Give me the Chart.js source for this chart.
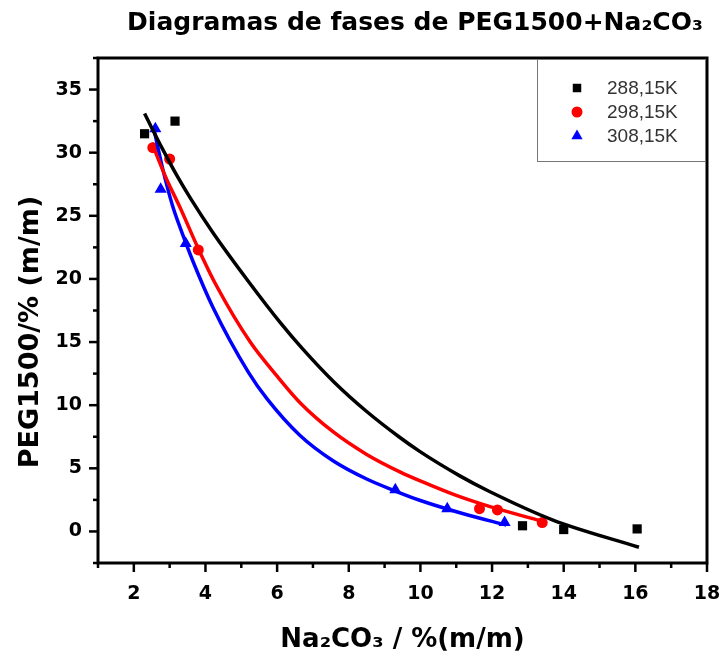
<!DOCTYPE html>
<html lang="pt">
<head>
  <meta charset="UTF-8">
  <title>Diagramas de fases de PEG1500+Na2CO3</title>
  <script src="https://cdn.jsdelivr.net/npm/chart.js"></script>
  <style>
    html, body { margin: 0; padding: 0; background: #fff; }
  </style>
</head>
<body>
  <canvas id="chart" width="720" height="662"></canvas>

  <script>
    // temperatures (legend labels)
    var seriesLabels = ['288,15K', '298,15K', '308,15K'];

    // experimental points
    var pts288X = [2.3, 3.15, 12.85, 14.0, 16.05];
    var pts288Y = [31.5, 32.5, 0.45, 0.15, 0.2];
    var pts298X = [2.53, 3.0, 3.8, 11.65, 12.15, 13.4];
    var pts298Y = [30.4, 29.5, 22.3, 1.8, 1.7, 0.7];
    var pts308X = [2.6, 2.75, 3.45, 9.3, 10.75, 12.35];
    var pts308Y = [31.9, 27.1, 22.8, 3.3, 1.8, 0.7];

    // fitted curves
    var fit288X = [2.3, 2.8, 3.2, 3.6, 4.2, 5.2, 6.1, 6.7, 7.6, 8.5, 9.4, 10.0, 11.1, 11.9, 13.7, 16.1];
    var fit288Y = [33.1, 30.3, 28.2, 26.3, 23.7, 19.8, 16.5, 14.5, 11.8, 9.5, 7.5, 6.3, 4.4, 3.2, 0.9, -1.25];
    var fit298X = [2.5, 2.9, 3.3, 3.8, 4.3, 5.25, 6.0, 6.64, 7.56, 8.5, 9.44, 10.08, 11.0, 11.9, 13.4];
    var fit298Y = [30.8, 28.0, 25.6, 22.4, 19.5, 15.0, 12.3, 10.2, 7.9, 6.1, 4.7, 3.9, 2.85, 2.0, 0.8];
    var fit308X = [2.55, 2.8, 3.07, 3.3, 3.65, 4.2, 5.2, 5.72, 6.64, 7.56, 8.5, 9.3, 10.0, 11.2, 12.4];
    var fit308Y = [32.0, 28.8, 25.9, 24.0, 21.4, 17.8, 12.6, 10.5, 7.6, 5.6, 4.15, 3.2, 2.45, 1.4, 0.5];

    // axis ticks
    var xMajor = [2, 4, 6, 8, 10, 12, 14, 16, 18];
    var xMinor = [1, 3, 5, 7, 9, 11, 13, 15, 17];
    var yMajor = [0, 5, 10, 15, 20, 25, 30, 35];
    var yMinor = [-2.5, 2.5, 7.5, 12.5, 17.5, 22.5, 27.5, 32.5, 37.5];

    var colors = ['#000000', '#ff0000', '#0000ff'];
    var styles = ['rect', 'circle', 'triangle'];
    var radii = [6.5, 5.5, 7];

    function toPoints(xs, ys) {
      return xs.map(function(x, i) { return { x: x, y: ys[i] }; });
    }

    var fits = [[fit288X, fit288Y], [fit298X, fit298Y], [fit308X, fit308Y]];
    var pts = [[pts288X, pts288Y], [pts298X, pts298Y], [pts308X, pts308Y]];

    var datasets = [];
    fits.forEach(function(f, i) {
      datasets.push({
        label: seriesLabels[i] + ' fit',
        data: toPoints(f[0], f[1]),
        showLine: true,
        borderColor: colors[i],
        borderWidth: 3.5,
        pointRadius: 0,
        cubicInterpolationMode: 'monotone',
        order: 1
      });
    });
    pts.forEach(function(p, i) {
      datasets.push({
        label: seriesLabels[i],
        data: toPoints(p[0], p[1]),
        showLine: false,
        pointStyle: styles[i],
        pointRadius: radii[i],
        backgroundColor: colors[i],
        borderColor: colors[i],
        borderWidth: 0,
        order: 2
      });
    });

    // frame, minor/major ticks, titles and legend box
    var extras = {
      id: 'extras',
      afterDatasetsDraw: function(chart) {
        var ctx = chart.ctx, a = chart.chartArea;
        var sx = chart.scales.x, sy = chart.scales.y;
        ctx.save();
        ctx.strokeStyle = '#000';
        ctx.lineWidth = 2.5;
        xMajor.forEach(function(v) {
          var px = sx.getPixelForValue(v);
          ctx.beginPath(); ctx.moveTo(px, a.bottom); ctx.lineTo(px, a.bottom + 9); ctx.stroke();
        });
        xMinor.forEach(function(v) {
          var px = sx.getPixelForValue(v);
          ctx.beginPath(); ctx.moveTo(px, a.bottom); ctx.lineTo(px, a.bottom + 5); ctx.stroke();
        });
        yMajor.forEach(function(v) {
          var py = sy.getPixelForValue(v);
          ctx.beginPath(); ctx.moveTo(a.left, py); ctx.lineTo(a.left - 9, py); ctx.stroke();
        });
        yMinor.forEach(function(v) {
          var py = sy.getPixelForValue(v);
          ctx.beginPath(); ctx.moveTo(a.left, py); ctx.lineTo(a.left - 5, py); ctx.stroke();
        });
        ctx.lineWidth = 3;
        ctx.strokeRect(a.left, a.top, a.right - a.left, a.bottom - a.top);

        // chart title and axis titles
        ctx.fillStyle = '#000';
        ctx.textAlign = 'center';
        ctx.textBaseline = 'middle';
        ctx.font = 'bold 25px "DejaVu Sans"';
        ctx.fillText('Diagramas de fases de PEG1500+Na\u2082CO\u2083', 415, 23);
        ctx.font = 'bold 26px "DejaVu Sans"';
        ctx.fillText('Na\u2082CO\u2083 / %(m/m)', (a.left + a.right) / 2, 640);
        ctx.save();
        ctx.translate(31, 332);
        ctx.rotate(-Math.PI / 2);
        ctx.font = 'bold 27px "DejaVu Sans"';
        ctx.fillText('PEG1500/% (m/m)', 0, 0);
        ctx.restore();

        // legend
        var lw = 170, lh = 104;
        var lx = a.right - lw, ly = a.top;
        ctx.lineWidth = 1;
        ctx.strokeStyle = '#777';
        ctx.fillStyle = '#fff';
        ctx.fillRect(lx, ly + 1.5, lw - 1.5, lh - 1.5);
        ctx.strokeRect(lx + 0.5, ly + 1.5, lw - 2, lh - 2);
        ctx.font = '19px "Liberation Sans"';
        ctx.textAlign = 'left';
        seriesLabels.forEach(function(lab, i) {
          var cy = ly + 30 + i * 24;
          ctx.fillStyle = colors[i];
          ctx.strokeStyle = colors[i];
          Chart.helpers.drawPoint(ctx, { pointStyle: styles[i], radius: [6, 5.5, 6.5][i], rotation: 0, borderWidth: 0 }, lx + 40, cy);
          ctx.fillStyle = '#333';
          ctx.fillText(lab, lx + 70, cy + 1);
        });
        ctx.restore();
      }
    };

    var tickFont = { family: 'DejaVu Sans', size: 19, weight: 'bold' };

    new Chart(document.getElementById('chart'), {
      type: 'scatter',
      data: { datasets: datasets },
      options: {
        responsive: false,
        animation: false,
        layout: { padding: { left: 0, right: 13, top: 58, bottom: 0 } },
        plugins: {
          legend: { display: false },
          tooltip: { enabled: false },
          title: { display: false }
        },
        scales: {
          x: {
            type: 'linear',
            min: 1,
            max: 18,
            grid: { display: false },
            border: { display: false },
            afterBuildTicks: function(s) { s.ticks = xMajor.map(function(v) { return { value: v }; }); },
            afterFit: function(s) { s.height = 99; s.paddingLeft = 0; s.paddingRight = 0; },
            ticks: { color: '#000', font: tickFont, padding: 12, maxRotation: 0 }
          },
          y: {
            type: 'linear',
            min: -2.5,
            max: 37.5,
            grid: { display: false },
            border: { display: false },
            afterBuildTicks: function(s) { s.ticks = yMajor.map(function(v) { return { value: v }; }); },
            afterFit: function(s) { s.width = 98; s.paddingTop = 0; s.paddingBottom = 0; },
            ticks: { color: '#000', font: tickFont, padding: 8 }
          }
        }
      },
      plugins: [extras]
    });
  </script>
</body>
</html>
